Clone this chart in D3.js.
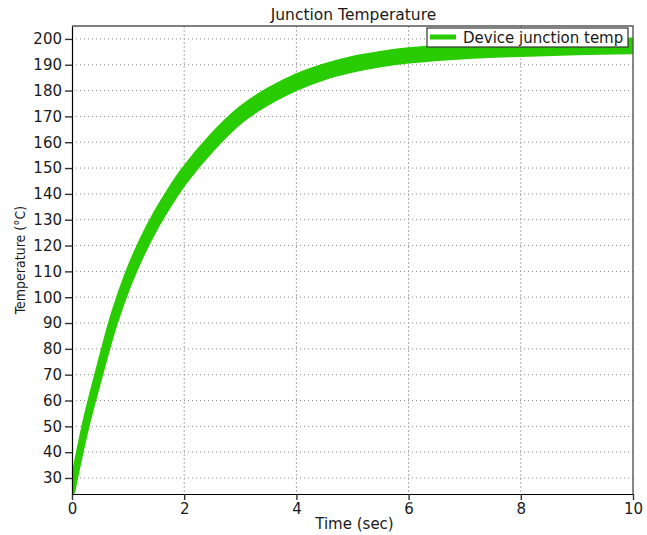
<!DOCTYPE html>
<html>
<head>
<meta charset="utf-8">
<script src="https://cdn.jsdelivr.net/npm/d3@7"></script>
<style>
    body { margin: 0; background: #fff; }
    text { font-family: "DejaVu Sans", Verdana, sans-serif; fill: #1a1a1a; }
</style>
</head>
<body>
<div id="canvas"></div>
<script>
// values
const timeSec = [0, 0.1, 0.25, 0.5, 0.75, 1, 1.25, 1.5, 1.75, 2, 2.5, 3, 3.5, 4, 4.5, 5, 5.5, 6, 7, 8, 9, 10];
const tempMid = [25, 36, 51, 72, 91.5, 107, 119.5, 130, 139, 147, 160, 170.5, 177.8, 183.3, 187.3, 190.2, 192.2, 193.6, 195.3, 196.2, 196.8, 197.3];
const tempRipple = [0, 0.3, 0.9, 1.4, 1.8, 2, 2.1, 2.1, 2.1, 2.1, 2.1, 2, 2, 2, 1.9, 1.9, 1.8, 1.8, 1.8, 1.8, 1.8, 1.9];
const xTicks = [0, 2, 4, 6, 8, 10];
const yTicks = [30, 40, 50, 60, 70, 80, 90, 100, 110, 120, 130, 140, 150, 160, 170, 180, 190, 200];
const seriesName = "Device junction temp";

const margin = { Top: 26, Right: 14, Bottom: 41, Left: 72 };
const width = 647 - margin.Left - margin.Right;
const height = 535 - margin.Top - margin.Bottom;
const green = "#28cc00";

const svg = d3.select("#canvas").append("svg")
    .attr("width", 647)
    .attr("height", 535);

const g = svg.append("g")
    .attr("transform", `translate(${margin.Left}, ${margin.Top})`);

const x = d3.scaleLinear().domain([0, 10]).range([0, width]);
const y = d3.scaleLinear().domain([23.8, 205]).range([height, 0]);

// grid
g.append("g").selectAll("line")
    .data(yTicks)
    .enter().append("line")
    .attr("x1", 0).attr("x2", width)
    .attr("y1", d => y(d)).attr("y2", d => y(d))
    .attr("stroke", "#888")
    .attr("stroke-dasharray", "1,3");

g.append("g").selectAll("line")
    .data(xTicks.slice(1, -1))
    .enter().append("line")
    .attr("x1", d => x(d)).attr("x2", d => x(d))
    .attr("y1", 0).attr("y2", height)
    .attr("stroke", "#aaa")
    .attr("stroke-dasharray", "2,2");

// data band
svg.append("clipPath").attr("id", "plotClip")
    .append("rect")
    .attr("width", width).attr("height", height);

const rows = timeSec.map((t, i) => ({ t: t, mid: tempMid[i], r: tempRipple[i] }));

const band = d3.area()
    .x(d => x(d.t))
    .y0(d => y(d.mid - d.r))
    .y1(d => y(d.mid + d.r))
    .curve(d3.curveCatmullRom.alpha(0.5));

g.append("path")
    .datum(rows)
    .attr("clip-path", "url(#plotClip)")
    .attr("d", band)
    .attr("fill", green)
    .attr("stroke", green)
    .attr("stroke-width", 7)
    .attr("stroke-linejoin", "round");

// axes
const xAxisGroup = g.append("g")
    .attr("transform", `translate(0, ${height})`)
    .call(d3.axisBottom(x).tickValues(xTicks).tickSize(6).tickSizeOuter(0).tickPadding(3));

const yAxisGroup = g.append("g")
    .call(d3.axisLeft(y).tickValues(yTicks).tickSize(7).tickSizeOuter(0).tickPadding(3));

[xAxisGroup, yAxisGroup].forEach(a => {
    a.select(".domain").attr("stroke", "#000").attr("stroke-width", 1.2);
    a.selectAll(".tick line").attr("stroke", "#333").attr("stroke-width", 1.4);
    a.selectAll("text")
        .style("font-size", "15px")
        .style("font-family", "DejaVu Sans")
        .attr("fill", "#1a1a1a");
});

// frame top/right
g.append("path")
    .attr("d", `M0,0H${width}V${height}`)
    .attr("fill", "none")
    .attr("stroke", "#555")
    .attr("stroke-width", 1.4);

// labels
svg.append("text")
    .attr("x", margin.Left + width / 2 + 1)
    .attr("y", 20)
    .attr("text-anchor", "middle")
    .style("font-size", "15.5px")
    .text("Junction Temperature");

svg.append("text")
    .attr("x", margin.Left + width / 2 + 2)
    .attr("y", 529)
    .attr("text-anchor", "middle")
    .style("font-size", "15px")
    .text("Time (sec)");

svg.append("text")
    .attr("transform", "translate(25, 260) rotate(-90)")
    .attr("text-anchor", "middle")
    .style("font-family", "'DejaVu Sans Condensed', 'DejaVu Sans', sans-serif")
    .style("font-size", "14px")
    .text("Temperature (°C)");

// legend
const legend = svg.append("g").attr("transform", "translate(427, 28)");
legend.append("rect")
    .attr("width", 201).attr("height", 19)
    .attr("fill", "#fff")
    .attr("stroke", "#333")
    .attr("stroke-width", 1.2);
legend.append("line")
    .attr("x1", 3).attr("x2", 29)
    .attr("y1", 9).attr("y2", 9)
    .attr("stroke", green)
    .attr("stroke-width", 5);
legend.append("text")
    .attr("x", 36).attr("y", 15)
    .style("font-size", "15px")
    .text(seriesName);
</script>
</body>
</html>
